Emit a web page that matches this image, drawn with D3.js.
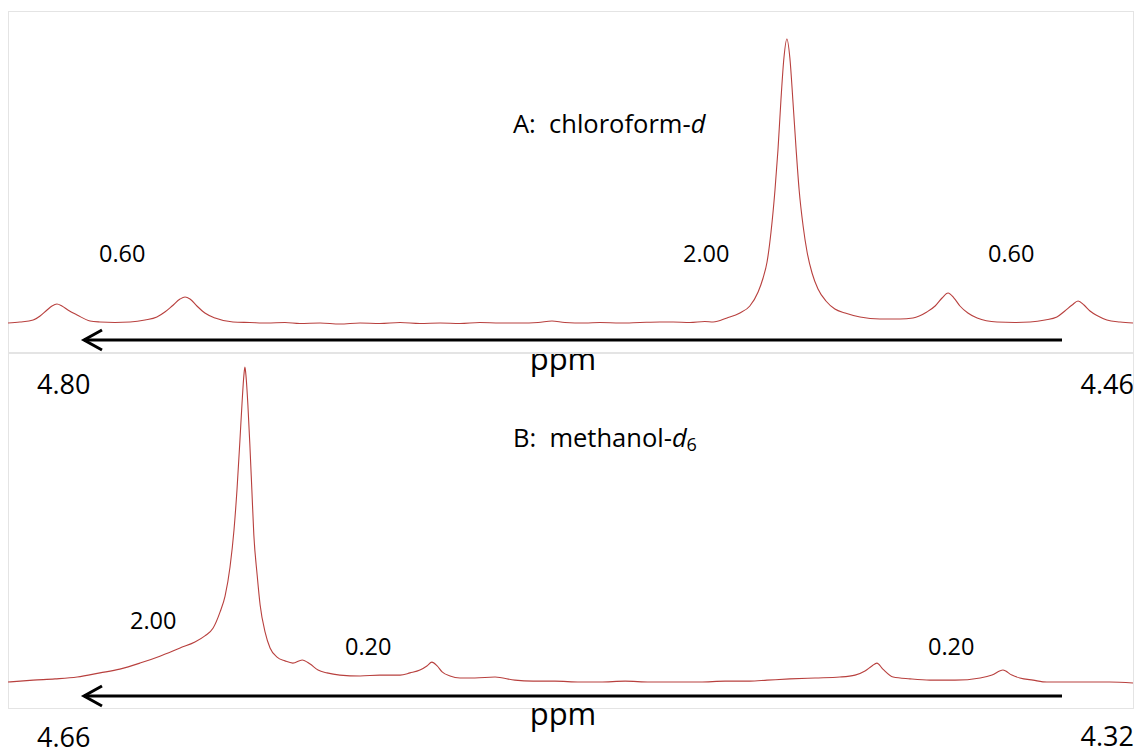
<!DOCTYPE html>
<html>
<head>
<meta charset="utf-8">
<script src="https://cdn.jsdelivr.net/npm/d3@7/dist/d3.min.js"></script>
<style>
  html, body { margin: 0; padding: 0; background: #fff; }
  svg { display: block; font-family: "Open Sans", "DejaVu Sans", sans-serif; }
  text { white-space: pre; }
</style>
</head>
<body>
<svg id="chart" width="1138" height="755"></svg>
<script>
// ---------- DATA ----------
// Spectrum A: chloroform-d  (ppm, relative intensity; main peak = 100)
const ppmA = [4.8000,4.7964,4.7924,4.7903,4.7882,4.7867,4.7852,4.7837,4.7819,4.7791,
  4.7752,4.7722,4.7677,4.7631,4.7586,4.7550,4.7526,4.7504,4.7480,4.7465,
  4.7450,4.7429,4.7405,4.7374,4.7320,4.7269,4.7217,4.7163,4.7118,4.7057,
  4.6997,4.6936,4.6876,4.6815,4.6755,4.6694,4.6634,4.6574,4.6513,4.6453,
  4.6398,4.6356,4.6317,4.6256,4.6211,4.6150,4.6090,4.6030,4.5990,4.5939,
  4.5894,4.5869,4.5827,4.5788,4.5758,4.5733,4.5718,4.5706,4.5694,4.5682,
  4.5673,4.5664,4.5655,4.5646,4.5637,4.5628,4.5618,4.5609,4.5597,4.5585,
  4.5570,4.5552,4.5528,4.5501,4.5470,4.5425,4.5365,4.5304,4.5265,4.5223,
  4.5198,4.5177,4.5159,4.5141,4.5123,4.5099,4.5071,4.5011,4.4957,4.4911,
  4.4866,4.4830,4.4806,4.4784,4.4766,4.4748,4.4730,4.4706,4.4679,4.4639,4.4600];
const intA = [0.35,0.70,1.40,2.81,4.91,6.32,7.02,6.32,4.91,3.16,
  1.05,0.70,0.53,0.70,1.40,2.46,4.21,6.32,8.77,9.47,
  8.77,6.32,3.86,2.11,0.70,0.53,0.35,0.53,0.18,0.35,
  0.00,0.35,0.18,0.53,0.18,0.35,0.18,0.53,0.35,0.35,
  0.53,1.05,0.53,0.35,0.53,0.35,0.53,0.70,0.70,0.53,
  0.88,0.70,2.11,3.86,6.32,11.23,16.14,21.75,32.28,47.02,
  61.05,78.60,93.33,100,93.33,78.60,61.05,47.02,34.39,25.26,
  17.89,12.28,8.07,5.26,3.86,2.46,1.75,1.75,2.11,4.21,
  6.32,9.12,10.88,9.12,6.32,3.86,2.11,0.70,0.53,0.70,
  1.40,2.46,4.56,6.67,8.07,6.67,4.56,2.81,1.40,0.70,0.35];

// Spectrum B: methanol-d6
const ppmB = [4.6600,4.6524,4.6458,4.6391,4.6322,4.6262,4.6201,4.6141,4.6080,4.6035,
  4.6005,4.5980,4.5959,4.5944,4.5929,4.5917,4.5908,4.5899,4.5893,4.5887,
  4.5884,4.5881,4.5875,4.5869,4.5863,4.5857,4.5847,4.5838,4.5823,4.5808,
  4.5787,4.5763,4.5739,4.5711,4.5687,4.5663,4.5636,4.5597,4.5536,4.5476,
  4.5415,4.5385,4.5355,4.5334,4.5319,4.5303,4.5288,4.5264,4.5234,4.5189,
  4.5128,4.5068,4.5013,4.4947,4.4871,4.4811,4.4735,4.4660,4.4584,4.4509,
  4.4433,4.4358,4.4306,4.4237,4.4161,4.4086,4.4040,4.4010,4.3989,4.3974,
  4.3956,4.3925,4.3874,4.3814,4.3738,4.3662,4.3626,4.3593,4.3566,4.3542,
  4.3502,4.3460,4.3390,4.3330,4.3270,4.3200];
const intB = [0.3,0.9,1.3,1.9,3.2,4.4,6.3,8.5,11.1,13.0,
  14.9,17.4,22.5,27.5,36.7,48.4,61.1,76.9,88.0,97.5,
  100,97.5,88.0,75.3,61.1,46.8,34.2,24.7,16.1,11.1,
  8.2,7.0,6.3,7.3,6.0,4.1,3.2,2.5,2.2,2.5,
  2.5,3.2,4.1,5.4,6.6,5.4,3.5,2.2,1.6,1.6,
  1.9,0.9,0.6,0.6,0.3,0.3,0.6,0.3,0.3,0.3,
  0.6,0.6,0.9,1.3,1.6,1.9,2.5,3.8,5.4,6.3,
  4.4,1.9,1.3,0.9,0.9,1.6,2.5,4.1,2.5,1.6,
  0.9,0.3,0.3,0.3,0.3,0.0];

const rangeA = [4.80, 4.46];       // ppm window of panel A
const rangeB = [4.66, 4.32];       // ppm window of panel B
const integralsA = ["0.60", "2.00", "0.60"];
const integralsB = ["2.00", "0.20", "0.20"];
const titleA = ["A:  chloroform-", "d"];
const titleB = ["B:  methanol-", "d", "6"];
const axisLabel = "ppm";

// ---------- LAYOUT ----------
const svg = d3.select("#chart");
const X0 = 8, X1 = 1133;
const panels = [
  { ppm: ppmA, int: intA, dom: rangeA, top: 11, bottom: 352, base: 324, peakY: 39,
    arrowY: 340, ppmY: 370, leftLabY: 394, rightLabY: 394,
    integrals: integralsA, intPos: [[99, 262], [683, 262], [988, 262]] },
  { ppm: ppmB, int: intB, dom: rangeB, top: 353, bottom: 708, base: 683, peakY: 367,
    arrowY: 696, ppmY: 725, leftLabY: 747, rightLabY: 746,
    integrals: integralsB, intPos: [[130, 629], [345, 655], [928, 655]] }
];

panels.forEach(p => {
  // frame
  svg.append("rect")
    .attr("x", X0 + 0.5).attr("y", p.top + 0.5)
    .attr("width", X1 - X0).attr("height", p.bottom - p.top)
    .attr("fill", "none").attr("stroke", "#e4e4e4").attr("stroke-width", 1);

  const x = d3.scaleLinear().domain(p.dom).range([X0, X1]);
  const y = d3.scaleLinear().domain([0, 100]).range([p.base, p.peakY]);
  const pts = p.ppm.map((v, i) => [v, p.int[i]]);
  const line = d3.line().x(d => x(d[0])).y(d => y(d[1])).curve(d3.curveMonotoneX);
  svg.append("path").datum(pts)
    .attr("d", line)
    .attr("fill", "none")
    .attr("stroke", "#b8403e")
    .attr("stroke-width", 1.1)
    .attr("stroke-linejoin", "round");

  // arrow
  const ay = p.arrowY;
  svg.append("line").attr("x1", 1062).attr("x2", 84).attr("y1", ay).attr("y2", ay)
    .attr("stroke", "#000").attr("stroke-width", 3);
  svg.append("path")
    .attr("d", `M102,${ay - 10} L84,${ay} L102,${ay + 10}`)
    .attr("fill", "none").attr("stroke", "#000").attr("stroke-width", 3)
    .attr("stroke-linejoin", "miter");

  svg.append("text").attr("x", 563).attr("y", p.ppmY)
    .attr("text-anchor", "middle").attr("font-size", 31).attr("fill", "#000")
    .text(axisLabel);

  // end labels
  svg.append("text").attr("x", 37).attr("y", p.leftLabY)
    .attr("font-size", 27).attr("fill", "#000").text(d3.format(".2f")(p.dom[0]));
  svg.append("text").attr("x", 1134).attr("y", p.rightLabY).attr("text-anchor", "end")
    .attr("font-size", 27).attr("fill", "#000").text(d3.format(".2f")(p.dom[1]));

  // integrals
  p.integrals.forEach((t, i) => {
    svg.append("text").attr("x", p.intPos[i][0]).attr("y", p.intPos[i][1])
      .attr("font-size", 23.5).attr("fill", "#000").text(t);
  });
});

// titles
const tA = svg.append("text").attr("x", 513).attr("y", 133).attr("font-size", 25.5).attr("fill", "#000");
tA.append("tspan").text(titleA[0]);
tA.append("tspan").attr("font-style", "italic").text(titleA[1]);

const tB = svg.append("text").attr("x", 513).attr("y", 447).attr("font-size", 25.5).attr("fill", "#000");
tB.append("tspan").text(titleB[0]);
tB.append("tspan").attr("font-style", "italic").text(titleB[1]);
tB.append("tspan").attr("font-size", 18).attr("dy", 4).text(titleB[2]);
</script>
</body>
</html>
